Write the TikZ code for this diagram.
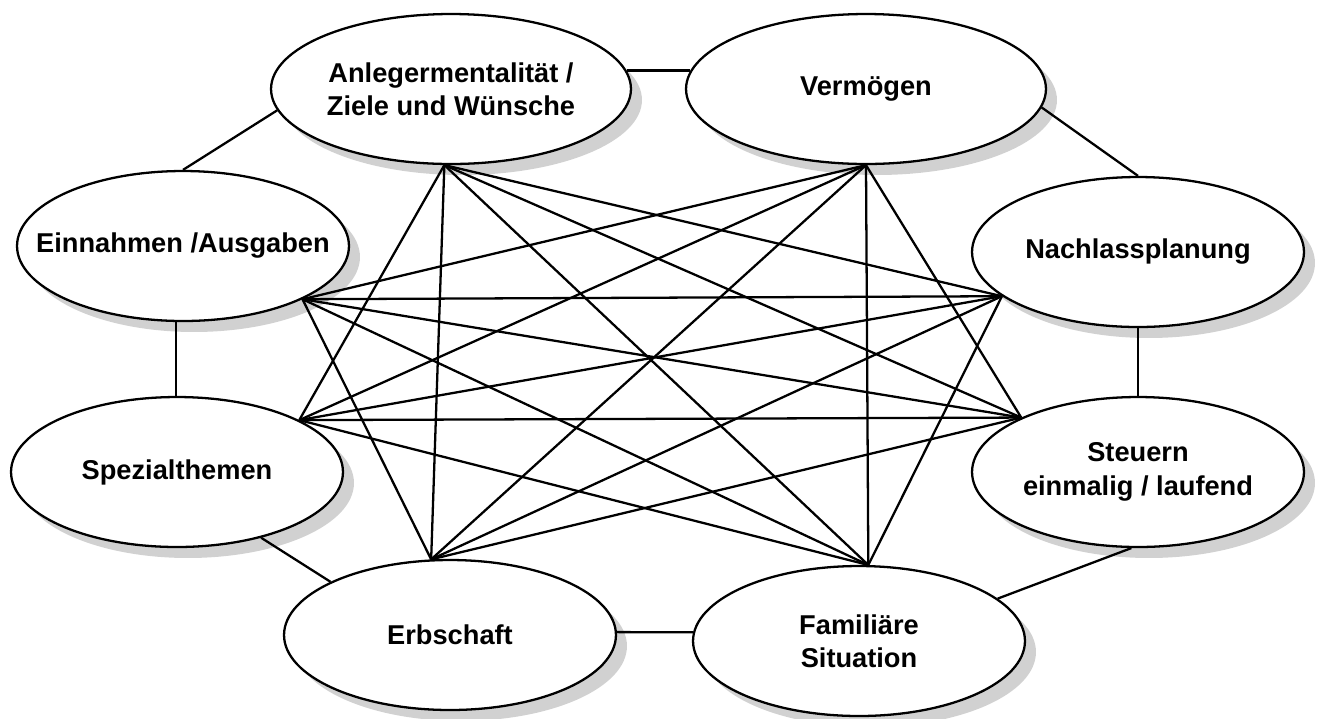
\documentclass[tikz,border=0pt]{standalone}
\usepackage{fontspec}
\setmainfont{Liberation Sans}
\usetikzlibrary{shapes.geometric}
\usetikzlibrary{shadows}

\tikzset{
    topic/.style={ellipse, draw, line width=1.3pt, fill=white,
            minimum width=6.64cm, minimum height=3cm,
            inner xsep=-1.3cm, inner ysep=0pt, align=center,
            font=\fontsize{15.5}{19}\selectfont\bfseries,
            drop shadow={shadow xshift=0.22cm, shadow yshift=-0.22cm,
                    fill=black!18, opacity=1}},
    bigtopic/.style={topic, minimum width=7.2cm},
    link/.style={line width=1.3pt},
}

\begin{document}
\begin{tikzpicture}[x=0.02cm, y=-0.02cm]

    \useasboundingbox (0,0) rectangle (1321,718);

    % topics
    \node[bigtopic] (anl) at (451,89) {Anlegermentalität /\\Ziele und Wünsche};
    \node[bigtopic] (verm) at (866,89) {Vermögen};
    \node[topic] (ein) at (183,246) {Einnahmen /Ausgaben};
    \node[topic] (nach) at (1138,252) {Nachlassplanung};
    \node[topic] (spez) at (177,472) {Spezialthemen};
    \node[topic] (steu) at (1138,472) {Steuern\\einmalig / laufend};
    \node[topic] (erb) at (450,635) {Erbschaft};
    \node[topic] (fam) at (859,641) {Familiäre\\Situation};

    % ------------------

    % meeting points of the inner lines
    \coordinate (hanl) at (anl.265);
    \coordinate (hverm) at (verm.270);
    \coordinate (hein) at (ein.-24);
    \coordinate (hnach) at (nach.198);
    \coordinate (hspez) at (spez.23);
    \coordinate (hsteu) at (steu.155);
    \coordinate (herb) at (erb.104);
    \coordinate (hfam) at (fam.83);

    % outer ring
    \path[draw, link]
    (anl.6) edge (verm.174)
    (verm.-6) edge (nach.north)
    (nach.south) edge (steu.north)
    (steu.265) edge (fam.17)
    (erb.1) edge (fam.177)
    (erb.156) edge (spez.-38)
    (ein.265) edge (ein.265 |- spez.north)
    (ein.north) edge (anl.187)
    ;

    % inner lines
    \path[draw, link]
    (hanl) edge (hspez)
    (hanl) edge (herb)
    (hanl) edge (hfam)
    (hanl) edge (hsteu)
    (hanl) edge (hnach)
    (hverm) edge (hein)
    (hverm) edge (hspez)
    (hverm) edge (herb)
    (hverm) edge (hfam)
    (hverm) edge (hsteu)
    (hein) edge (hnach)
    (hein) edge (hsteu)
    (hein) edge (hfam)
    (hein) edge (herb)
    (hspez) edge (hnach)
    (hspez) edge (hsteu)
    (hspez) edge (hfam)
    (hnach) edge (herb)
    (hnach) edge (hfam)
    (hsteu) edge (herb)
    ;
\end{tikzpicture}
\end{document}
